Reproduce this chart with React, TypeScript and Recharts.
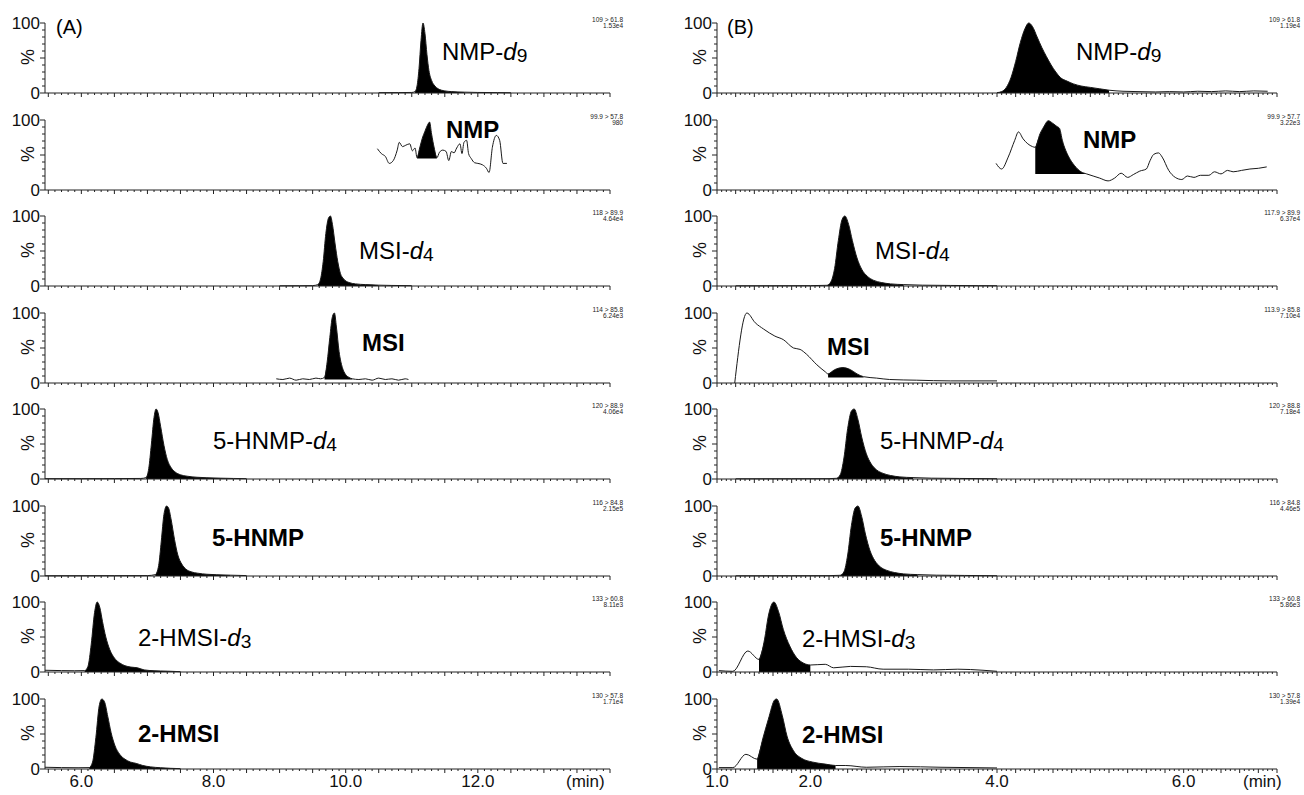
import React from "react";
import { ComposedChart, Line, Area, XAxis, YAxis } from "recharts";

// x axes (min)
const leftDomain: [number, number] = [5.45, 14.0];
const rightDomain: [number, number] = [1.0, 7.0];
const leftTickLabels = [6, 8, 10, 12];
const rightTickLabels = [1, 2, 4, 6];
const yTicks = [0, 10, 20, 30, 40, 50, 60, 70, 80, 90, 100];

// ---- (A) ----
const aNmpD9T = [10.5, 10.8, 11.0, 11.05, 11.08, 11.11, 11.14, 11.17, 11.2, 11.23, 11.26, 11.3, 11.35, 11.4, 11.5, 11.6, 11.8, 12.0, 12.3, 12.5];
const aNmpD9Y = [0.5, 0.6, 0.8, 2, 10, 35, 75, 100, 85, 55, 32, 18, 10, 6, 3, 2, 1.2, 0.8, 0.6, 0.4];

const aNmpT = [10.48, 10.54, 10.6, 10.66, 10.72, 10.78, 10.81, 10.86, 10.91, 10.97, 11.01, 11.05, 11.08, 11.12, 11.16, 11.2, 11.24, 11.27, 11.3, 11.34, 11.38, 11.42, 11.47, 11.52, 11.56, 11.6, 11.64, 11.68, 11.73, 11.76, 11.79, 11.83, 11.86, 11.9, 11.95, 12.0, 12.07, 12.13, 12.17, 12.22, 12.28, 12.33, 12.38, 12.44];
const aNmpY = [59, 52, 48, 38, 42, 57, 68, 62, 64, 66, 56, 60, 46, 60, 74, 84, 93, 97, 80, 60, 46, 54, 57, 55, 42, 55, 53, 60, 66, 52, 68, 71, 52, 45, 39, 38, 36, 31, 25, 61, 78, 71, 38, 38];

const aMsiD4T = [9.0, 9.3, 9.5, 9.58, 9.62, 9.66, 9.7, 9.74, 9.77, 9.8, 9.84, 9.88, 9.92, 9.97, 10.05, 10.15, 10.3, 10.5, 10.7, 11.0];
const aMsiD4Y = [0.3, 0.4, 0.6, 2, 10, 35, 75, 97, 100, 88, 60, 35, 18, 10, 5, 3, 2, 1.2, 0.8, 0.5];

const aMsiT = [8.95, 9.05, 9.15, 9.25, 9.35, 9.45, 9.55, 9.62, 9.68, 9.72, 9.76, 9.8, 9.83, 9.86, 9.9, 9.95, 10.0, 10.05, 10.1, 10.2, 10.3, 10.4, 10.5, 10.6, 10.7, 10.8, 10.9, 10.95];
const aMsiY = [6, 5, 7, 4, 6, 5, 7, 6, 8, 30, 65, 95, 100, 80, 45, 22, 12, 8, 6, 5, 6, 4, 7, 5, 6, 4, 6, 5];

const aHnmpD4T = [5.45, 6.0, 6.5, 6.9, 6.98, 7.02, 7.06, 7.1, 7.13, 7.16, 7.2, 7.25, 7.3, 7.36, 7.42, 7.5, 7.6, 7.75, 7.9, 8.1, 8.3, 8.5];
const aHnmpD4Y = [0.5, 0.5, 0.6, 0.8, 2, 15, 50, 88, 100, 95, 75, 48, 28, 16, 10, 6, 4, 2.5, 1.8, 1.2, 0.8, 0.5];

const aHnmpT = [5.45, 6.5, 7.0, 7.12, 7.17, 7.21, 7.25, 7.29, 7.32, 7.36, 7.41, 7.46, 7.52, 7.58, 7.66, 7.76, 7.9, 8.05, 8.25, 8.5];
const aHnmpY = [0.4, 0.5, 0.6, 2, 15, 50, 88, 100, 97, 80, 52, 30, 17, 10, 6, 4, 2.5, 1.8, 1.2, 0.6];

const aHmsiD3T = [5.45, 5.7, 5.9, 6.05, 6.1, 6.15, 6.2, 6.24, 6.28, 6.32, 6.37, 6.43, 6.5, 6.58, 6.66, 6.75, 6.85, 6.95, 7.1, 7.3, 7.5];
const aHmsiD3Y = [2.5, 2, 1.8, 2, 8, 40, 85, 100, 92, 72, 50, 32, 20, 13, 9, 7, 6, 3, 1.8, 1.2, 0.5];

const aHmsiT = [5.45, 5.7, 5.95, 6.12, 6.17, 6.22, 6.27, 6.31, 6.35, 6.4, 6.45, 6.51, 6.58, 6.66, 6.74, 6.83, 6.93, 7.05, 7.2, 7.35, 7.5];
const aHmsiY = [2.5, 2, 1.8, 2, 10, 45, 90, 100, 96, 75, 52, 33, 21, 14, 10, 8, 5, 3, 1.8, 1, 0.5];

// ---- (B) ----
const bNmpD9T = [4.0, 4.05, 4.1, 4.15, 4.2, 4.25, 4.3, 4.34, 4.38, 4.43, 4.48, 4.53, 4.58, 4.63, 4.68, 4.75, 4.82, 4.9, 5.0, 5.1, 5.2, 5.35, 5.5, 5.7, 5.85, 6.0, 6.15, 6.3, 6.45, 6.6, 6.75, 6.9];
const bNmpD9Y = [0.5, 2, 8, 22, 45, 72, 92, 100, 95, 80, 65, 52, 40, 30, 22, 17, 13, 10, 8, 6, 4, 2.5, 2, 1.5, 2, 1.5, 2.5, 2, 3, 2, 3, 2.5];

const bNmpT = [3.99, 4.05, 4.12, 4.19, 4.23, 4.28, 4.33, 4.38, 4.41, 4.46, 4.5, 4.55, 4.6, 4.64, 4.67, 4.7, 4.77, 4.83, 4.9, 4.96, 5.03, 5.1, 5.19, 5.26, 5.33, 5.4, 5.46, 5.53, 5.6, 5.64, 5.68, 5.73, 5.77, 5.84, 5.91, 5.98, 6.04, 6.11, 6.18, 6.27, 6.33, 6.4, 6.47, 6.53, 6.62, 6.71, 6.8, 6.89];
const bNmpY = [38, 30, 47, 71, 83, 73, 66, 62, 61, 80, 90, 99, 95, 91, 88, 71, 47, 35, 26, 23, 20, 17, 13, 17, 24, 18, 22, 27, 30, 42, 51, 53, 47, 28, 18, 15, 20, 18, 21, 21, 26, 23, 28, 26, 28, 30, 31, 33];

const bMsiD4T = [1.2, 1.6, 2.0, 2.18, 2.22, 2.26, 2.3, 2.34, 2.37, 2.41, 2.45, 2.5, 2.55, 2.61, 2.68, 2.76, 2.86, 3.0, 3.2, 3.5, 3.8, 4.0];
const bMsiD4Y = [0.3, 0.4, 0.5, 1, 6, 25, 65, 95, 100, 88, 65, 40, 24, 14, 8, 5, 3, 2, 1.2, 0.8, 0.5, 0.4];

const bMsiT = [1.19, 1.32, 1.41, 1.5, 1.62, 1.71, 1.82, 1.89, 1.96, 2.07, 2.16, 2.19, 2.26, 2.35, 2.43, 2.5, 2.57, 2.71, 2.85, 3.14, 3.5, 4.0];
const bMsiY = [0, 100, 86, 77, 67, 62, 50, 48, 41, 26, 16, 13, 19, 22, 19, 13, 9, 7, 5, 4, 3, 3];

const bHnmpD4T = [1.2, 1.8, 2.2, 2.28, 2.32, 2.36, 2.4, 2.44, 2.47, 2.51, 2.55, 2.6, 2.65, 2.71, 2.78, 2.86, 2.96, 3.1, 3.3, 3.6, 4.0];
const bHnmpD4Y = [0.3, 0.4, 0.5, 1, 6, 30, 72, 97, 100, 85, 60, 36, 22, 13, 8, 5, 3, 2, 1.2, 0.8, 0.4];

const bHnmpT = [1.2, 1.8, 2.2, 2.32, 2.36, 2.4, 2.44, 2.48, 2.51, 2.55, 2.59, 2.64, 2.69, 2.75, 2.82, 2.9, 3.0, 3.15, 3.35, 3.65, 4.0];
const bHnmpY = [0.3, 0.4, 0.5, 1, 6, 30, 72, 97, 100, 85, 60, 36, 22, 13, 8, 5, 3, 2, 1.2, 0.8, 0.4];

const bHmsiD3T = [1.02, 1.17, 1.33, 1.45, 1.51, 1.55, 1.61, 1.66, 1.71, 1.78, 1.85, 1.93, 2.0, 2.16, 2.25, 2.43, 2.6, 2.78, 3.05, 3.32, 3.58, 3.85, 4.0];
const bHmsiD3Y = [2, 1, 30, 18, 47, 80, 100, 86, 61, 37, 21, 12.5, 10, 11, 6, 8, 7.5, 4, 4, 3, 4, 2.5, 1];

const bHmsiT = [1.02, 1.17, 1.31, 1.43, 1.49, 1.55, 1.62, 1.64, 1.7, 1.75, 1.82, 1.91, 2.02, 2.16, 2.27, 2.38, 2.6, 2.96, 3.4, 4.0];
const bHmsiY = [2, 2, 21, 14, 43, 71, 99, 100, 76, 47, 26, 15, 10, 7, 5, 5, 2.5, 3.5, 2.5, 1.5];

// integrated peak: [start, end, baseline %]
const aPeaks = [[11.05, 11.8, 0], [11.08, 11.38, 45], [9.58, 10.5, 0], [9.68, 10.1, 5], [6.98, 8.3, 0], [7.12, 8.25, 0], [6.05, 7.5, 0], [6.12, 7.5, 0]];
const bPeaks = [[4.0, 5.2, 0], [4.41, 4.96, 23], [2.18, 3.0, 0], [2.19, 2.57, 8], [2.28, 3.1, 0], [2.32, 3.15, 0], [1.45, 2.0, 0], [1.43, 2.27, 0]];

const aNames = ["NMP-|9", "NMP", "MSI-|4", "MSI", "5-HNMP-|4", "5-HNMP", "2-HMSI-|3", "2-HMSI"];
const bNames = aNames;
const aMrm = [["109 > 61.8", "1.53e4"], ["99.9 > 57.8", "980"], ["118 > 89.9", "4.64e4"], ["114 > 85.8", "6.24e3"], ["120 > 88.9", "4.06e4"], ["116 > 84.8", "2.15e5"], ["133 > 60.8", "8.11e3"], ["130 > 57.8", "1.71e4"]];
const bMrm = [["109 > 61.8", "1.19e4"], ["99.9 > 57.7", "3.22e3"], ["117.9 > 89.9", "6.37e4"], ["113.9 > 85.8", "7.10e4"], ["120 > 88.8", "7.18e4"], ["116 > 84.8", "4.46e5"], ["133 > 60.8", "5.86e3"], ["130 > 57.8", "1.39e4"]];

const aTraces = [[aNmpD9T, aNmpD9Y], [aNmpT, aNmpY], [aMsiD4T, aMsiD4Y], [aMsiT, aMsiY], [aHnmpD4T, aHnmpD4Y], [aHnmpT, aHnmpY], [aHmsiD3T, aHmsiD3Y], [aHmsiT, aHmsiY]];
const bTraces = [[bNmpD9T, bNmpD9Y], [bNmpT, bNmpY], [bMsiD4T, bMsiD4Y], [bMsiT, bMsiY], [bHnmpD4T, bHnmpD4Y], [bHnmpT, bHnmpY], [bHmsiD3T, bHmsiD3Y], [bHmsiT, bHmsiY]];

// layout
const FONT = "'Liberation Sans', Arial, sans-serif";
const PLOT_H = 70;
const TOP_PAD = 10;
const AXIS_H = 26;
const baselines = [93, 190, 286, 383, 479, 576, 672, 769];

const makeTicks = (start: number, end: number, step: number) => {
  const n = Math.round((end - start) / step);
  return Array.from({ length: n + 1 }, (_, i) => +(start + i * step).toFixed(3));
};

const cols = [
  { chartLeft: 0, yWidth: 45, plotRight: 610, domain: leftDomain, ticks: makeTicks(5.5, 14, 0.1), major: 0.5, labels: leftTickLabels, mrmRight: 623, tag: "(A)", tagX: 56, pctX: 28, minX: 566 },
  { chartLeft: 672, yWidth: 45, plotRight: 1277, domain: rightDomain, ticks: makeTicks(1, 7, 0.05), major: 0.2, labels: rightTickLabels, mrmRight: 1300, tag: "(B)", tagX: 727, pctX: 700, minX: 1243 },
];

// label positions [left x, centre y]
const aLabelPos = [[442, 52], [446, 130], [359, 251], [362, 343], [213, 441], [212, 538], [138, 638], [138, 734]];
const bLabelPos = [[1076, 52], [1083, 140], [875, 251], [827, 347], [880, 441], [880, 538], [802, 639], [802, 735]];

function XTick(props: any) {
  const { x, y, payload, major, labels } = props;
  const v = payload.value;
  const isMajor = Math.abs(v / major - Math.round(v / major)) < 1e-6;
  const lab = labels.find((l: number) => Math.abs(l - v) < 1e-6);
  return (
    <g>
      <line x1={x} x2={x} y1={y} y2={y + (isMajor ? 4 : 2)} stroke="#222" strokeWidth={1} />
      {lab !== undefined && (
        <text x={x} y={y + 18} textAnchor="middle" fontSize={17} fill="#111" fontFamily={FONT}>
          {lab.toFixed(1)}
        </text>
      )}
    </g>
  );
}

function YTick(props: any) {
  const { x, y, payload } = props;
  const v = payload.value;
  const len = v % 50 === 0 ? 5 : 3;
  return (
    <g>
      <line x1={x - len} x2={x} y1={y} y2={y} stroke="#222" strokeWidth={1} />
      {(v === 0 || v === 100) && (
        <text x={x - 5} y={y + 6} textAnchor="end" fontSize={17} fill="#111" fontFamily={FONT}>
          {v}
        </text>
      )}
    </g>
  );
}

function Trace({ ci, row, t, y, peak, bottom }: any) {
  const c = cols[ci];
  const data = t.map((tt: number, i: number) => ({
    t: tt,
    y: y[i],
    peak: tt >= peak[0] - 1e-9 && tt <= peak[1] + 1e-9 ? [peak[2], y[i]] : null,
  }));
  const width = c.plotRight - c.chartLeft + 10;
  return (
    <div style={{ position: "absolute", left: c.chartLeft, top: baselines[row] - PLOT_H - TOP_PAD }}>
      <ComposedChart width={width} height={TOP_PAD + PLOT_H + AXIS_H} data={data} margin={{ top: TOP_PAD, right: 10, bottom: 0, left: 0 }}>
        <XAxis
          type="number"
          dataKey="t"
          domain={c.domain}
          ticks={c.ticks}
          interval={0}
          height={AXIS_H}
          tickSize={0}
          tickMargin={0}
          tickLine={false}
          axisLine={{ stroke: "#222" }}
          tick={(p: any) => <XTick {...p} major={c.major} labels={bottom ? c.labels : []} />}
        />
        <YAxis
          type="number"
          domain={[0, 100]}
          ticks={yTicks}
          interval={0}
          width={c.yWidth}
          tickSize={0}
          tickMargin={0}
          tickLine={false}
          axisLine={{ stroke: "#222" }}
          tick={(p: any) => <YTick {...p} />}
        />
        <Area type="monotone" dataKey="peak" stroke="none" fill="#000" fillOpacity={1} connectNulls={false} dot={false} activeDot={false} isAnimationActive={false} />
        <Line type="monotone" dataKey="y" stroke="#1a1a1a" strokeWidth={1} dot={false} activeDot={false} isAnimationActive={false} />
      </ComposedChart>
    </div>
  );
}

function Name({ text, x, y }: any) {
  const [stem, iso] = text.split("|");
  const bold = iso === undefined;
  return (
    <div style={{ position: "absolute", left: x, top: y - 14, fontFamily: FONT, fontSize: 24, lineHeight: "28px", fontWeight: bold ? 700 : 400, color: "#000", whiteSpace: "nowrap" }}>
      {stem}
      {!bold && (
        <>
          <i>d</i>
          <span style={{ fontSize: "0.8em", position: "relative", top: 2 }}>{iso}</span>
        </>
      )}
    </div>
  );
}

export default function App() {
  const sets = [
    { traces: aTraces, peaks: aPeaks, names: aNames, mrm: aMrm, pos: aLabelPos },
    { traces: bTraces, peaks: bPeaks, names: bNames, mrm: bMrm, pos: bLabelPos },
  ];
  return (
    <div style={{ position: "absolute", left: 0, top: 0, width: 1304, height: 795, background: "#fff", overflow: "hidden", fontFamily: FONT }}>
      <style>{"body{margin:0}"}</style>
      {sets.map((s, ci) => (
        <React.Fragment key={ci}>
          {s.traces.map((tr, row) => (
            <Trace key={row} ci={ci} row={row} t={tr[0]} y={tr[1]} peak={s.peaks[row]} bottom={row === 7} />
          ))}
          {s.names.map((n, row) => (
            <Name key={"n" + row} text={n} x={s.pos[row][0]} y={s.pos[row][1]} />
          ))}
          {s.mrm.map((m, row) => (
            <div key={"m" + row} style={{ position: "absolute", left: cols[ci].mrmRight - 100, width: 100, top: baselines[row] - PLOT_H - 6, textAlign: "right", fontSize: 6.5, lineHeight: "6px", color: "#222" }}>
              {m[0]}
              <br />
              {m[1]}
            </div>
          ))}
          {baselines.map((b, row) => (
            <div key={"p" + row} style={{ position: "absolute", left: cols[ci].pctX, top: b - 36, transform: "translate(-50%, -50%) rotate(-90deg)", fontSize: 18, lineHeight: "18px", color: "#111" }}>
              %
            </div>
          ))}
          <div style={{ position: "absolute", left: cols[ci].tagX, top: 15, fontSize: 20, lineHeight: "24px", color: "#000" }}>{cols[ci].tag}</div>
          <div style={{ position: "absolute", left: cols[ci].minX, top: 771, fontSize: 17, lineHeight: "22px", color: "#111" }}>(min)</div>
        </React.Fragment>
      ))}
    </div>
  );
}
